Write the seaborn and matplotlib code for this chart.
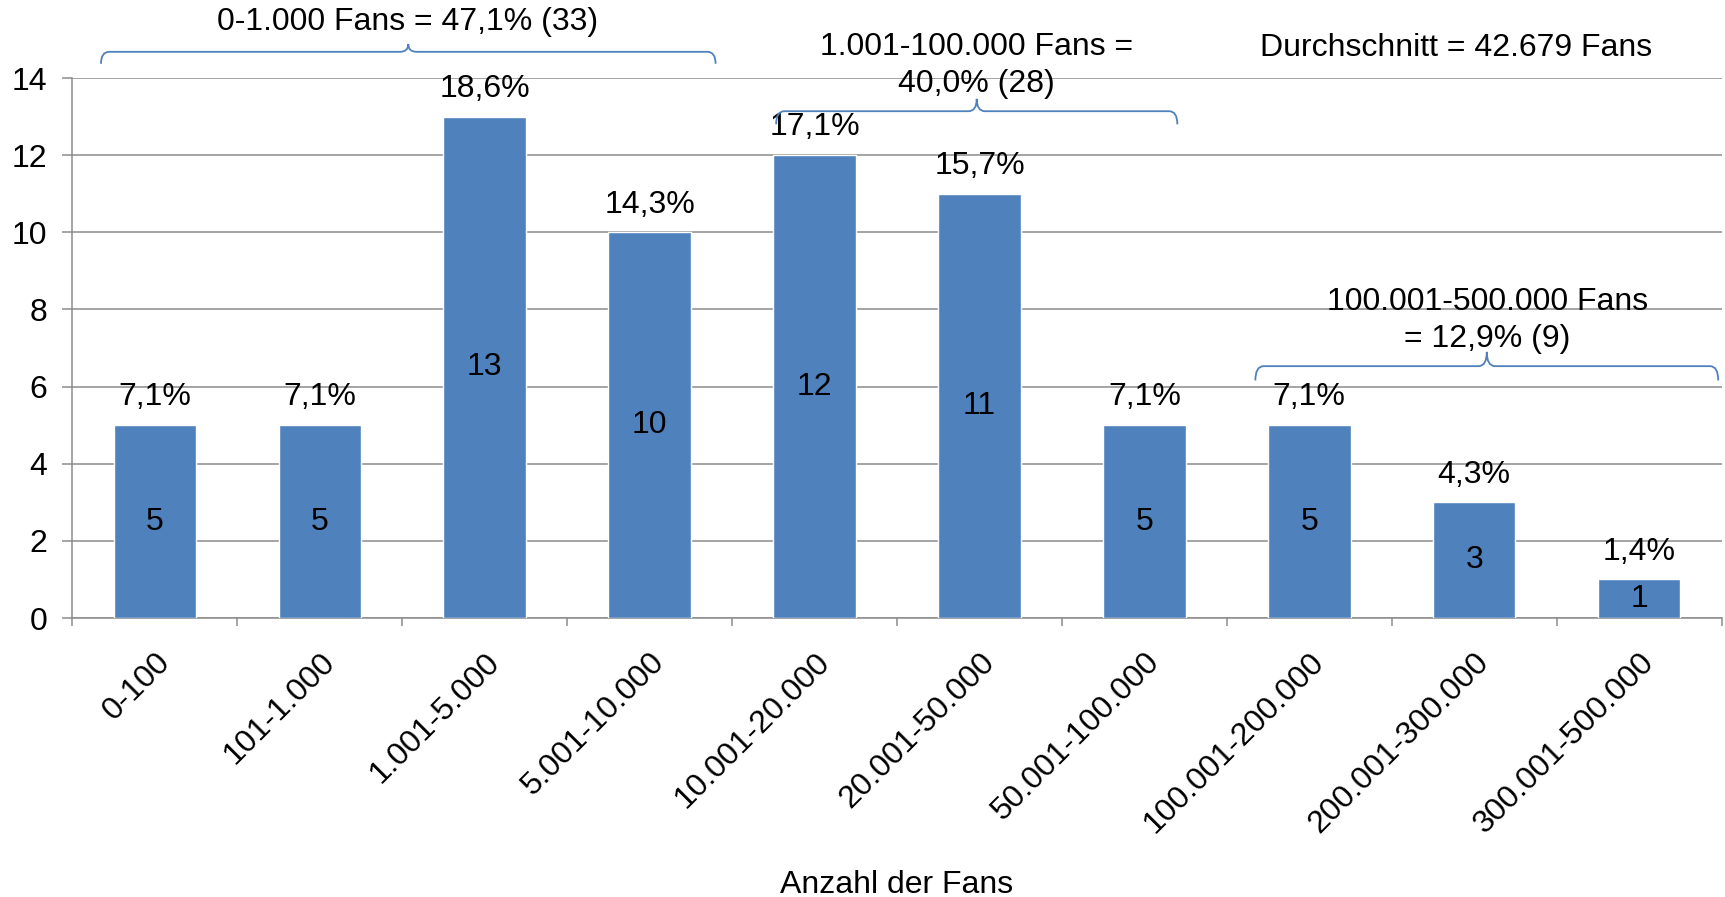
import numpy as np
import pandas as pd
import matplotlib
matplotlib.use("Agg")
import matplotlib.pyplot as plt
from matplotlib.path import Path
from matplotlib.patches import PathPatch
import seaborn as sns

# Fan-count classes and number of pages per class
categories = ["0-100", "101-1.000", "1.001-5.000", "5.001-10.000", "10.001-20.000",
              "20.001-50.000", "50.001-100.000", "100.001-200.000", "200.001-300.000",
              "300.001-500.000"]
counts = [5, 5, 13, 10, 12, 11, 5, 5, 3, 1]
percent_labels = ["7,1%", "7,1%", "18,6%", "14,3%", "17,1%", "15,7%", "7,1%", "7,1%", "4,3%", "1,4%"]

# Grouped summaries shown with curly brackets
group_texts = ["0-1.000 Fans = 47,1% (33)",
               "1.001-100.000 Fans =\n40,0% (28)",
               "100.001-500.000 Fans\n= 12,9% (9)"]
mean_text = "Durchschnitt = 42.679 Fans"
x_title = "Anzahl der Fans"

BAR = "#4F81BD"
GRID = "#8C8C8C"

sns.set_theme(style="white")
plt.rcParams["font.family"] = ["Liberation Sans", "DejaVu Sans"]
plt.rcParams["text.color"] = "black"
plt.rcParams["xtick.color"] = "black"
plt.rcParams["ytick.color"] = "black"
plt.rcParams["axes.labelcolor"] = "black"
FS = 23

df = pd.DataFrame({"Klasse": categories, "Anzahl": counts})

fig = plt.figure(figsize=(17.25, 8.97), dpi=100)
ax = fig.add_axes([0.042, 0.311, 0.956, 0.602])
sns.barplot(data=df, x="Klasse", y="Anzahl", color=BAR, saturation=1, width=0.5, ax=ax, zorder=3)

ax.set_xlim(-0.5, len(categories) - 0.5)
ax.set_ylim(0, 14)
ax.set_yticks(range(0, 15, 2))
ax.yaxis.grid(True, color=GRID, linewidth=1.1, zorder=0)
ax.set_axisbelow(True)
for s in ["top", "right"]:
    ax.spines[s].set_visible(False)
for s in ["left", "bottom"]:
    ax.spines[s].set_color(GRID)
    ax.spines[s].set_linewidth(1.1)

ax.tick_params(axis="y", which="major", left=True, length=7, width=1.1, color=GRID,
               labelsize=FS, pad=11, labelcolor="black")
ax.set_xticks(np.arange(-0.5, len(categories), 1.0), minor=True)
ax.tick_params(axis="x", which="minor", bottom=True, length=6, width=1.1, color=GRID)
ax.tick_params(axis="x", which="major", bottom=False, labelsize=FS, pad=15, labelcolor="black")
ax.set_xticklabels(categories, rotation=45, ha="right", rotation_mode="anchor")
ax.set_ylabel("")
ax.set_xlabel(x_title, fontsize=FS, labelpad=22, color="black")

# Value labels: percentage above each bar, count in the middle
for i, (c, p) in enumerate(zip(counts, percent_labels)):
    ax.annotate(p, (i, c), xytext=(0, 20), textcoords="offset points",
                ha="center", va="center", fontsize=FS, color="black", zorder=5)
    ax.text(i, c / 2, str(c), ha="center", va="center", fontsize=FS, color="black", zorder=5)


def brace(ax, x0, x1, y, drop, tip, color=BAR):
    """Horizontal curly bracket opening downward, pointing up at its middle."""
    xm = (x0 + x1) / 2
    r = 0.05
    verts = [
        (x0, y - drop), (x0, y), (x0 + r, y),
        (xm - r, y),
        (xm, y), (xm, y + tip),
        (xm, y), (xm + r, y),
        (x1 - r, y),
        (x1, y), (x1, y - drop),
    ]
    codes = [Path.MOVETO, Path.CURVE3, Path.CURVE3,
             Path.LINETO,
             Path.CURVE3, Path.CURVE3,
             Path.CURVE3, Path.CURVE3,
             Path.LINETO,
             Path.CURVE3, Path.CURVE3]
    ax.add_patch(PathPatch(Path(verts, codes), fill=False, edgecolor=color,
                           linewidth=1.3, clip_on=False, zorder=6))


brace(ax, -0.327, 3.40, 14.68, 0.31, 0.20)
ax.text(1.533, 15.45, group_texts[0], ha="center", va="center", fontsize=FS, clip_on=False)

brace(ax, 3.767, 6.20, 13.14, 0.34, 0.32)
ax.text(4.98, 14.32, group_texts[1], ha="center", va="center", fontsize=FS,
        linespacing=1.3, clip_on=False)

brace(ax, 6.673, 9.48, 6.53, 0.37, 0.37)
ax.text(8.08, 7.72, group_texts[2], ha="center", va="center", fontsize=FS,
        linespacing=1.3, zorder=5)

ax.text(7.89, 14.77, mean_text, ha="center", va="center", fontsize=FS, clip_on=False)

fig.savefig("out.png", dpi=100)
